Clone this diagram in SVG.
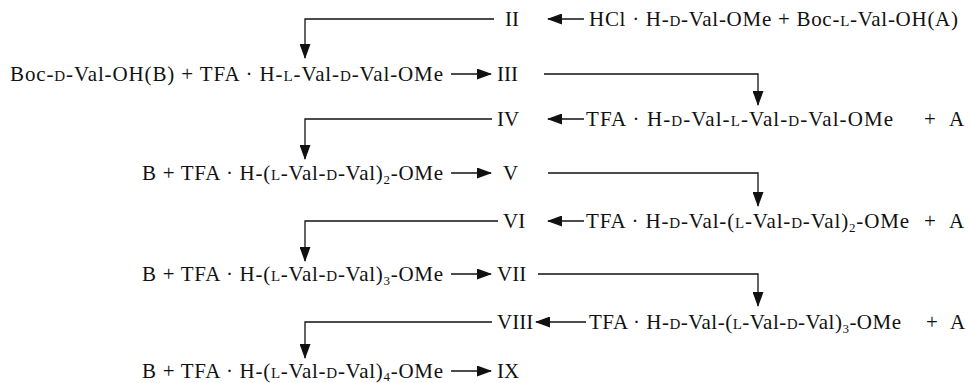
<svg xmlns="http://www.w3.org/2000/svg" width="972" height="383" viewBox="0 0 972 383">
  <style>
    .t { font-family: "Liberation Serif", "Times New Roman", serif; font-size: 21px; fill: #111; }
    .sc { font-size: 15px; }
    .sub { font-size: 13px; }
    .ln { fill: none; stroke: #111; stroke-width: 1.3; }
  </style>
  <defs>
    <marker id="ah" markerUnits="userSpaceOnUse" markerWidth="15" markerHeight="11" refX="14" refY="5.5" orient="auto">
      <path d="M0,0 L15,5.5 L0,11 Z" fill="#111"/>
    </marker>
  </defs>
  <rect width="972" height="383" fill="#fff"/>

  <!-- row 1 -->
  <g id="n2">
    <text class="t" x="505" y="26">II</text>
    <text class="t" x="589" y="26" textLength="369" lengthAdjust="spacing">HCl · H-<tspan class="sc">D</tspan>-Val-OMe + Boc-<tspan class="sc">L</tspan>-Val-OH(A)</text>
  </g>
  <!-- row 2 -->
  <g id="n3">
    <text class="t" x="10" y="81" textLength="433" lengthAdjust="spacing">Boc-<tspan class="sc">D</tspan>-Val-OH(B) + TFA · H-<tspan class="sc">L</tspan>-Val-<tspan class="sc">D</tspan>-Val-OMe</text>
    <text class="t" x="497" y="81">III</text>
  </g>
  <!-- row 3 -->
  <g id="n4">
    <text class="t" x="497" y="126">IV</text>
    <text class="t" x="586" y="126" textLength="307" lengthAdjust="spacing">TFA · H-<tspan class="sc">D</tspan>-Val-<tspan class="sc">L</tspan>-Val-<tspan class="sc">D</tspan>-Val-OMe</text>
    <text class="t" x="924" y="126">+<tspan x="949">A</tspan></text>
  </g>
  <!-- row 4 -->
  <g id="n5">
    <text class="t" x="503" y="180">V</text>
    <text class="t" x="142" y="180" textLength="301" lengthAdjust="spacing">B + TFA · H-(<tspan class="sc">L</tspan>-Val-<tspan class="sc">D</tspan>-Val)<tspan class="sub" dy="4">2</tspan><tspan dy="-4">-OMe</tspan></text>
  </g>
  <!-- row 5 -->
  <g id="n6">
    <text class="t" x="503" y="228">VI</text>
    <text class="t" x="586" y="228" textLength="323" lengthAdjust="spacing">TFA · H-<tspan class="sc">D</tspan>-Val-(<tspan class="sc">L</tspan>-Val-<tspan class="sc">D</tspan>-Val)<tspan class="sub" dy="4">2</tspan><tspan dy="-4">-OMe</tspan></text>
    <text class="t" x="924" y="228">+<tspan x="949">A</tspan></text>
  </g>
  <!-- row 6 -->
  <g id="n7">
    <text class="t" x="142" y="281" textLength="301" lengthAdjust="spacing">B + TFA · H-(<tspan class="sc">L</tspan>-Val-<tspan class="sc">D</tspan>-Val)<tspan class="sub" dy="4">3</tspan><tspan dy="-4">-OMe</tspan></text>
    <text class="t" x="497" y="281">VII</text>
  </g>
  <!-- row 7 -->
  <g id="n8">
    <text class="t" x="497" y="329">VIII</text>
    <text class="t" x="589" y="329" textLength="312" lengthAdjust="spacing">TFA · H-<tspan class="sc">D</tspan>-Val-(<tspan class="sc">L</tspan>-Val-<tspan class="sc">D</tspan>-Val)<tspan class="sub" dy="4">3</tspan><tspan dy="-4">-OMe</tspan></text>
    <text class="t" x="926" y="329">+<tspan x="950">A</tspan></text>
  </g>
  <!-- row 8 -->
  <g id="n9">
    <text class="t" x="142" y="378" textLength="301" lengthAdjust="spacing">B + TFA · H-(<tspan class="sc">L</tspan>-Val-<tspan class="sc">D</tspan>-Val)<tspan class="sub" dy="3">4</tspan><tspan dy="-3">-OMe</tspan></text>
    <text class="t" x="497" y="378">IX</text>
  </g>

  <!-- connectors -->
  <g id="connectors" class="ln" marker-end="url(#ah)">
    <!-- reagent arrows pointing left -->
    <path d="M584,19 H548"/>
    <path d="M584,119 H548"/>
    <path d="M584,221 H548"/>
    <path d="M586,322 H536"/>
    <!-- product arrows pointing right -->
    <path d="M451,74 H491"/>
    <path d="M451,173 H491"/>
    <path d="M451,274 H491"/>
    <path d="M451,371 H491"/>
    <!-- feed-back to left column -->
    <path d="M494,19 H305 V58"/>
    <path d="M492,119 H305 V159"/>
    <path d="M498,221 H305 V261"/>
    <path d="M492,322 H305 V358"/>
    <!-- feed-down to right column -->
    <path d="M544,74 H758 V105"/>
    <path d="M548,173 H758 V206"/>
    <path d="M538,274 H758 V306"/>
  </g>
</svg>
